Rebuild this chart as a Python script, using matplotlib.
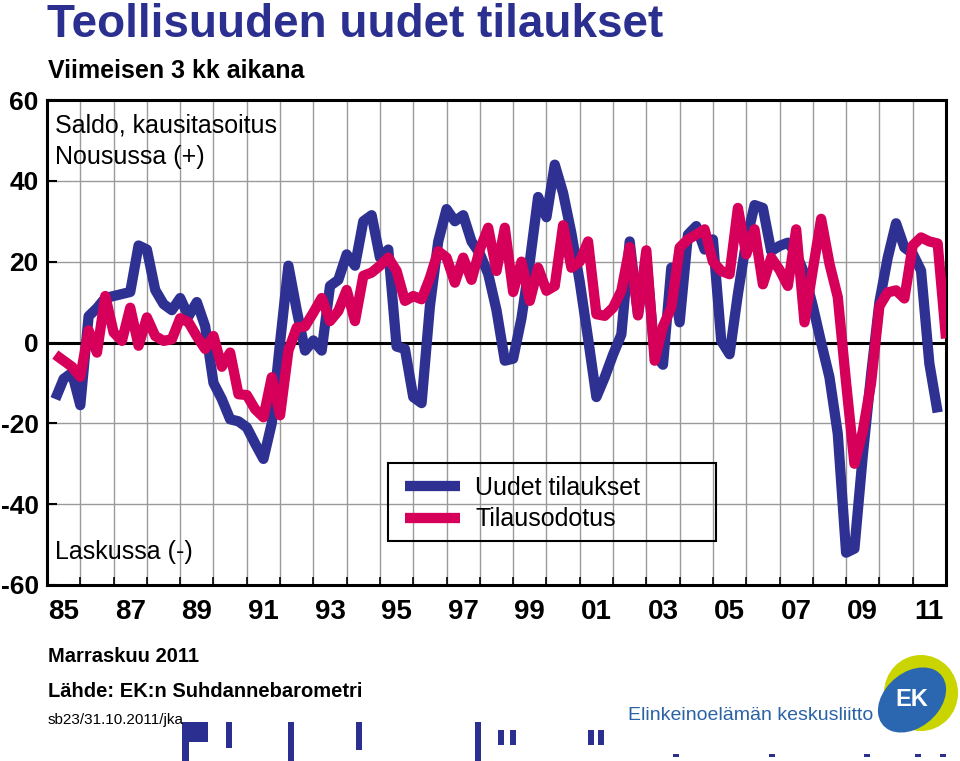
import matplotlib
matplotlib.use("Agg")
import matplotlib.pyplot as plt
import numpy as np
from matplotlib.patches import Rectangle, Ellipse
from matplotlib.lines import Line2D

plt.rcParams['font.family'] = ['Liberation Sans', 'DejaVu Sans']
plt.rcParams['axes.unicode_minus'] = False

# ---- data (quarterly, value at end of quarter) ----
start_year = 1985.25
uudet_tilaukset = [
    -14, -9, -7.5, -15.5, 6.5, 8.5, 11, 11.5, 12, 12.5, 24, 23, 13, 9.5, 8, 11,
    6.5, 10, 4, -10, -14, -19, -19.5, -21, -25, -28.8, -20, 0, 19, 8, -2, 0.5,
    -2, 14, 15.5, 21.8, 19, 30, 31.5, 21, 23, -1, -1.6, -13.5, -15, 9, 25, 33,
    30, 31.5, 25, 22, 17, 8, -4.5, -4, 6, 20, 36, 31, 44, 37, 27, 15, 1, -13.5,
    -8.6, -3, 2, 25, 7, 21, -3, -5.5, 18.5, 5, 26.7, 28.8, 23, 25.5, 0.4, -2.9,
    12, 25, 34, 33.3, 22.6, 23.9, 24.7, 22, 17, 9, 0, -8.6, -22.6, -52, -51,
    -28, -8, 10, 21, 29.5, 23.5, 22, 17.8, -5.2, -17.3]
tilausodotus = [
    -3, -4.5, -6, -8.5, 3, -2.5, 11.5, 2.5, 0.4, 8.6, -0.8, 6.2, 1.6, 0.4, 0.8, 6,
    5, 1.5, -1.6, 1.6, -6, -2.5, -12.8, -13, -16.5, -18.5, -8.6, -18, -2, 3.7, 4,
    7.4, 11, 5.3, 7.8, 13, 5.3, 16.5, 17.3, 19, 21, 17.7, 10.3, 11.5, 10.7, 16,
    22.6, 21, 14.8, 21, 15.5, 23, 28.4, 17.7, 28.4, 12.5, 20, 10.3, 18.5, 12.8,
    14, 29, 18.5, 20, 25, 7, 6.6, 8.6, 12.8, 23.6, 6.7, 22.8, -4.5, 4, 8.6, 23.5,
    25.5, 26.7, 28, 20, 17.7, 16.9, 33.3, 21.8, 28, 14.4, 21, 18, 14, 28, 5, 18,
    30.6, 19.5, 11.2, -10, -30, -22, -10, 9, 12.4, 12.9, 10.9, 24, 26, 25, 24.5, 1]
series_labels = ["Uudet tilaukset", "Tilausodotus"]
year_labels = ['85', '87', '89', '91', '93', '95', '97', '99', '01', '03', '05', '07', '09', '11']
y_ticks = [-60, -40, -20, 0, 20, 40, 60]

t_blue = start_year + 0.25 * np.arange(len(uudet_tilaukset))
t_red = start_year + 0.25 * np.arange(len(tilausodotus))

BLUE = '#2E3192'
RED = '#D6005A'
NAVY = '#2B2F8F'

W, H = 960, 761
fig = plt.figure(figsize=(W / 100, H / 100), dpi=100)
fig.patch.set_facecolor('white')


def fx(x):
    return x / W


def fy(y):
    return 1 - y / H


ax = fig.add_axes([fx(47), fy(585), (946 - 47) / W, (585 - 100) / H])
ax.set_xlim(1985, 2012)
ax.set_ylim(-60, 60)

# grid
for yv in [-40, -20, 20, 40]:
    ax.axhline(yv, color='#9a9a9a', lw=1.0, zorder=1)
ax.set_xticks(np.arange(1985, 2013, 1), minor=True)
ax.grid(which='minor', axis='x', color='#9a9a9a', lw=1.0, zorder=1)
ax.axhline(0, color='black', lw=2.2, zorder=2)

ax.plot(t_blue, uudet_tilaukset, color=BLUE, lw=7.4, solid_joinstyle='round',
        solid_capstyle='butt', zorder=3, label=series_labels[0])
ax.plot(t_red, tilausodotus, color=RED, lw=7.4, solid_joinstyle='round',
        solid_capstyle='butt', zorder=4, label=series_labels[1])

# ticks
ax.set_yticks(y_ticks)
ax.set_yticklabels([str(v) for v in y_ticks], fontsize=19, fontweight='bold')
ax.tick_params(axis='y', direction='in', length=7, width=1.5, pad=6)
major_x = [1985.5 + 2 * i for i in range(len(year_labels))]
ax.set_xticks(major_x)
ax.set_xticklabels(year_labels, fontsize=20, fontweight='bold')
ax.tick_params(axis='x', which='major', length=0, pad=10)
ax.tick_params(axis='x', which='minor', direction='in', length=6, width=1.2)
for s in ax.spines.values():
    s.set_linewidth(2.2)
    s.set_color('black')

# legend
handles = [Line2D([], [], color=BLUE, lw=7.4, solid_capstyle='butt'),
           Line2D([], [], color=RED, lw=7.4, solid_capstyle='butt')]
leg = ax.legend(handles, series_labels, loc='upper left',
                bbox_to_anchor=(fx(400), fy(471)), bbox_transform=fig.transFigure,
                frameon=False, fontsize=18, handlelength=2.2, handletextpad=0.6,
                labelspacing=0.3, borderpad=0.2, borderaxespad=0)
fig.add_artist(Rectangle((fx(388), fy(541)), (716 - 388) / W, (541 - 463) / H,
                         transform=fig.transFigure, fill=False, ec='black', lw=1.5, zorder=5))

# texts inside plot
fig.text(fx(55), fy(133), "Saldo, kausitasoitus", fontsize=18, va='baseline')
fig.text(fx(55), fy(164), "Nousussa (+)", fontsize=18, va='baseline')
fig.text(fx(55), fy(559), "Laskussa (-)", fontsize=18, va='baseline')

# titles
fig.text(fx(47), fy(37), "Teollisuuden uudet tilaukset", fontsize=33, fontweight='bold',
         color=NAVY, va='baseline')
fig.text(fx(48), fy(78), "Viimeisen 3 kk aikana", fontsize=18, fontweight='bold', va='baseline')

# footer
fig.text(fx(48), fy(662), "Marraskuu 2011", fontsize=14.5, fontweight='bold', va='baseline')
fig.text(fx(48), fy(697), "Lähde: EK:n Suhdannebarometri", fontsize=14.5, fontweight='bold', va='baseline')
fig.text(fx(48), fy(724), "sb23/31.10.2011/jka", fontsize=11, va='baseline')

# EK logo
fig.text(fx(628), fy(720), "Elinkeinoelämän keskusliitto", fontsize=14, color='#2A62A6',
         va='baseline')
fig.add_artist(Ellipse((fx(921), fy(693)), 74 / W, 76 / H, angle=0,
                       transform=fig.transFigure, fc='#C9D400', ec='none'))
fig.add_artist(Ellipse((fx(912), fy(700)), 60 / W, 70 / H, angle=-30,
                       transform=fig.transFigure, fc='#2B66B0', ec='none'))
fig.text(fx(912), fy(700), "EK", fontsize=17, fontweight='bold', color='white',
         ha='center', va='center')

# scan artefacts at bottom
artefacts = [(182, 722, 26, 20), (182, 722, 7, 39), (226, 722, 6, 26), (288, 722, 6, 39),
             (356, 722, 6, 28), (475, 722, 6, 39), (498, 730, 6, 15), (510, 730, 6, 15),
             (588, 730, 6, 15), (598, 730, 6, 15),
             (673, 754, 6, 3), (769, 754, 6, 3), (864, 754, 6, 3), (915, 754, 6, 3), (940, 754, 6, 3)]
for (x0, y0, w, h) in artefacts:
    fig.add_artist(Rectangle((fx(x0), fy(y0 + h)), w / W, h / H, transform=fig.transFigure,
                             fc=NAVY, ec='none'))

fig.savefig('out.png', dpi=100)
